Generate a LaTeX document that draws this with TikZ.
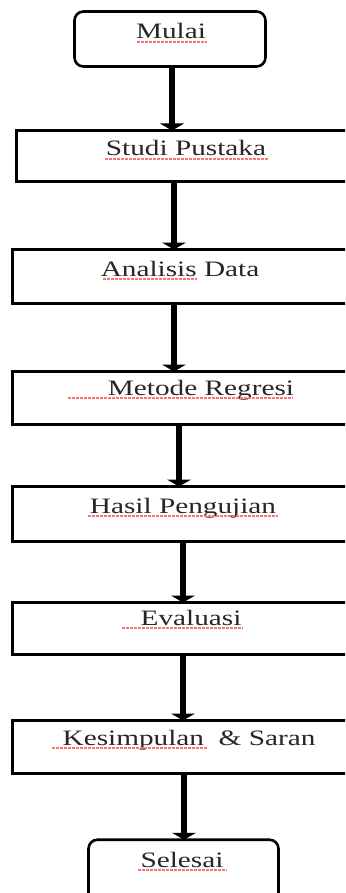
\documentclass[tikz,border=0pt]{standalone}
\usepackage{graphicx}
\usepackage{fontspec}
\setmainfont{Liberation Serif}
\usetikzlibrary{arrows.meta}
\newcommand\wtxt[1]{\scalebox{1.33}[1]{#1}}
\begin{document}
\begin{tikzpicture}[x=1pt,y=-1pt,
  box/.style={draw=black, line width=2.6pt, rectangle, inner sep=0pt, outer sep=0pt},
  term/.style={box, rounded corners=9pt},
  lbl/.style={anchor=base, inner sep=0pt, text=black!85, font=\fontsize{22}{24}\selectfont},
  arr/.style={line width=6pt, -{Triangle[width=24pt,length=7pt]}},
  squig/.style={draw=red!55, line width=1.8pt, dash pattern=on 2.5pt off 1.5pt}]
\useasboundingbox (0,0) rectangle (345,893);
\clip (0,0) rectangle (345,893);
% boxes
\node[term, minimum width=191pt, minimum height=55pt] (mulai) at (170,39) {};
\node[box, minimum width=383.5pt, minimum height=51pt] (studi) at (208.25,156) {};
\node[box, minimum width=387.5pt, minimum height=54pt] (analisis) at (206.25,276.5) {};
\node[box, minimum width=387.5pt, minimum height=53pt] (metode) at (206.25,398) {};
\node[box, minimum width=387.5pt, minimum height=55pt] (hasil) at (206.25,514) {};
\node[box, minimum width=387.5pt, minimum height=52pt] (eval) at (206.25,628.5) {};
\node[box, minimum width=387.5pt, minimum height=53pt] (kesim) at (206.25,747) {};
\node[term, minimum width=190pt, minimum height=90pt] (selesai) at (183.5,884.75) {};
% labels
\node[lbl] (tmulai) at (171,39) {\wtxt{Mulai}};
\node[lbl] (tstudi) at (186,156) {\wtxt{Studi Pustaka}};
\node[lbl] (tanalisis) at (180,276) {\wtxt{Analisis Data}};
\node[lbl] (tmetode) at (201,395) {\wtxt{Metode Regresi}};
\node[lbl] (thasil) at (183,513) {\wtxt{Hasil Pengujian}};
\node[lbl] (teval) at (191,625) {\wtxt{Evaluasi}};
\node[lbl] (tkesim) at (189,745) {\wtxt{Kesimpulan \ \& Saran}};
\node[lbl] (tselesai) at (182,867) {\wtxt{Selesai}};
% spell-check underlines
\draw[squig] (137,42) -- (207,42);
\draw[squig] (105,159) -- (268,159);
\draw[squig] (103,279) -- (197,279);
\draw[squig] (68,398) -- (293,398);
\draw[squig] (88,516) -- (278,516);
\draw[squig] (122,628) -- (243,628);
\draw[squig] (52,748) -- (207,748);
\draw[squig] (138,870) -- (227,870);
% arrows
\draw[arr] (mulai.south -| 172,0) -- (studi.north -| 172,0);
\draw[arr] (studi.south -| 174,0) -- (analisis.north -| 174,0);
\draw[arr] (analisis.south -| 174,0) -- (metode.north -| 174,0);
\draw[arr] (metode.south -| 179,0) -- (hasil.north -| 179,0);
\draw[arr] (hasil.south -| 183,0) -- (eval.north -| 183,0);
\draw[arr] (eval.south -| 183,0) -- (kesim.north -| 183,0);
\draw[arr] (kesim.south -| 184,0) -- (selesai.north -| 184,0);
\end{tikzpicture}
\end{document}
